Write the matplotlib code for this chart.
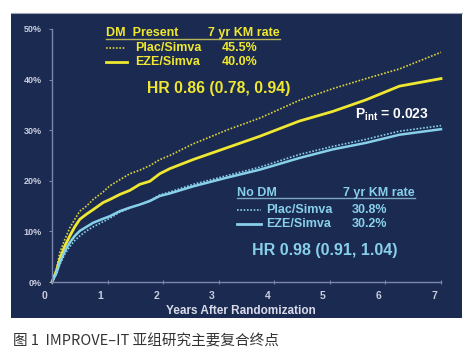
import matplotlib
matplotlib.use("Agg")
import matplotlib.pyplot as plt
import matplotlib.transforms as mtransforms
from matplotlib.patches import Rectangle
from matplotlib.lines import Line2D

plt.rcParams['font.family'] = ['Liberation Sans', 'DejaVu Sans']
plt.rcParams['mathtext.fontset'] = 'custom'
plt.rcParams['mathtext.rm'] = 'Liberation Sans:bold'

# Data (cumulative event rate, %)
years = [0, 0.08, 0.14, 0.23, 0.32, 0.41, 0.5, 0.62, 0.74, 0.92, 1.04, 1.22, 1.4,
         1.58, 1.76, 1.94, 2.12, 2.54, 3.14, 3.74, 4.45, 5.05, 5.65, 6.25, 7.0]
dm_plac = [0, 2.5, 5.8, 8.4, 10.7, 12.4, 14.0, 15.0, 16.3, 17.8, 19.0, 20.2, 21.4,
           22.1, 23.0, 24.2, 25.0, 27.3, 30.0, 32.4, 35.9, 38.2, 40.2, 42.1, 45.4]
dm_eze = [0, 2.2, 4.5, 7.1, 9.1, 10.9, 12.4, 13.4, 14.3, 15.7, 16.3, 17.3, 18.1,
          19.3, 19.9, 21.4, 22.4, 24.2, 26.5, 28.8, 31.8, 33.7, 36.0, 38.7, 40.2]
nodm_plac = [0, 1.6, 3.4, 5.5, 7.0, 8.2, 9.1, 10.1, 10.9, 11.9, 12.6, 13.8, 14.6,
             15.3, 16.1, 17.2, 17.8, 19.3, 21.0, 22.7, 25.2, 26.8, 28.2, 29.8, 30.9]
nodm_eze = [0, 1.8, 3.8, 6.1, 7.8, 9.1, 10.1, 10.9, 11.7, 12.5, 13.0, 14.0, 14.7,
            15.3, 16.0, 17.0, 17.5, 18.9, 20.6, 22.2, 24.5, 26.2, 27.5, 29.1, 30.2]

xticks = [0, 1, 2, 3, 4, 5, 6, 7]
yticks = [0, 10, 20, 30, 40, 50]
ytick_labels = ["0%", "10%", "20%", "30%", "40%", "50%"]

W, H = 468, 359
navy = "#1b2a50"
yellow = "#efe730"
yellow_dot = "#d9d43c"
blue = "#88cfea"
axis_col = "#7c86ad"
tick_col = "#c9cde0"

fig = plt.figure(figsize=(W / 100, H / 100), dpi=100)
fig.patch.set_facecolor("white")


def fx(px):
    return px / W


def fy(py):
    return 1 - py / H


# dark panel behind everything
fig.patches.append(Rectangle((fx(11), fy(318)), fx(462) - fx(11), fy(13) - fy(318),
                             transform=fig.transFigure, facecolor=navy, edgecolor="none", zorder=-5))
fig.lines.append(Line2D([fx(11), fx(462)], [fy(13), fy(13)], transform=fig.transFigure,
                        color="#a0a4b0", lw=0.8, zorder=-4))

ax = fig.add_axes([fx(52), fy(282), fx(441) - fx(52), fy(29) - fy(282)])
ax.set_zorder(1)
ax.set_facecolor("none")
ax.set_xlim(0, 7)
ax.set_ylim(0, 50)
for s in ["top", "right"]:
    ax.spines[s].set_visible(False)
for s in ["left", "bottom"]:
    ax.spines[s].set_color(axis_col)
    ax.spines[s].set_linewidth(1.0)

ax.plot(years, dm_plac, color=yellow_dot, lw=1.2, ls=(0, (1, 1)), clip_on=False)
ax.plot(years, dm_eze, color=yellow, lw=2.0, clip_on=False)
ax.plot(years, nodm_plac, color=blue, lw=1.2, ls=(0, (1, 1)), clip_on=False)
ax.plot(years, nodm_eze, color=blue, lw=1.8, clip_on=False)

ax.set_xticks(xticks)
ax.set_xticklabels([str(t) for t in xticks])
ax.set_yticks(yticks)
ax.set_yticklabels(ytick_labels)
ax.tick_params(axis="x", direction="inout", length=3, color=axis_col, pad=5,
               labelsize=7.5, labelcolor=tick_col)
ax.tick_params(axis="y", direction="out", length=2.5, color=axis_col, pad=5,
               labelsize=6.5, labelcolor=tick_col)
offset = mtransforms.ScaledTranslation(-7 / 100, 0, fig.dpi_scale_trans)
for lab in ax.get_xticklabels():
    lab.set_fontweight("bold")
    lab.set_transform(lab.get_transform() + offset)
for lab in ax.get_yticklabels():
    lab.set_fontweight("bold")

fig.text(fx(241), fy(311), "Years After Randomization", ha="center", va="center",
         fontsize=8.5, fontweight="bold", color="#d8dcea")

# DM present legend block
fig.text(fx(106), fy(33), "DM  Present", ha="left", va="center", fontsize=9,
         fontweight="bold", color=yellow)
fig.text(fx(280), fy(33), "7 yr KM rate", ha="right", va="center", fontsize=9,
         fontweight="bold", color=yellow)
fig.lines.append(Line2D([fx(106), fx(280)], [fy(38.5), fy(38.5)], transform=fig.transFigure,
                        color="#b8b45a", lw=1.0))
fig.lines.append(Line2D([fx(106), fx(126)], [fy(48), fy(48)], transform=fig.transFigure,
                        color=yellow_dot, lw=1.2, ls=(0, (1, 1))))
fig.lines.append(Line2D([fx(106), fx(127)], [fy(62), fy(62)], transform=fig.transFigure,
                        color=yellow, lw=2.0))
fig.text(fx(135), fy(48), "Plac/Simva", ha="left", va="center", fontsize=9,
         fontweight="bold", color=yellow)
fig.text(fx(135), fy(62), "EZE/Simva", ha="left", va="center", fontsize=9,
         fontweight="bold", color=yellow)
fig.text(fx(222), fy(48), "45.5%", ha="left", va="center", fontsize=9,
         fontweight="bold", color=yellow)
fig.text(fx(222), fy(62), "40.0%", ha="left", va="center", fontsize=9,
         fontweight="bold", color=yellow)
fig.text(fx(147), fy(89), "HR 0.86 (0.78, 0.94)", ha="left", va="center", fontsize=11.3,
         fontweight="bold", color=yellow)

# interaction p
fig.text(fx(355), fy(115), r"P$_{\mathrm{int}}$ = 0.023", ha="left", va="center",
         fontsize=10, fontweight="bold", color="white")

# No DM legend block
fig.text(fx(237), fy(193), "No DM", ha="left", va="center", fontsize=9,
         fontweight="bold", color=blue)
fig.text(fx(415), fy(193), "7 yr KM rate", ha="right", va="center", fontsize=9,
         fontweight="bold", color=blue)
fig.lines.append(Line2D([fx(237), fx(415)], [fy(198), fy(198)], transform=fig.transFigure,
                        color="#7aa9c4", lw=1.0))
fig.lines.append(Line2D([fx(237), fx(261)], [fy(210), fy(210)], transform=fig.transFigure,
                        color=blue, lw=1.2, ls=(0, (1, 1))))
fig.lines.append(Line2D([fx(237), fx(261)], [fy(224), fy(224)], transform=fig.transFigure,
                        color=blue, lw=2.0))
fig.text(fx(266), fy(210), "Plac/Simva", ha="left", va="center", fontsize=9,
         fontweight="bold", color=blue)
fig.text(fx(266), fy(224), "EZE/Simva", ha="left", va="center", fontsize=9,
         fontweight="bold", color=blue)
fig.text(fx(352), fy(210), "30.8%", ha="left", va="center", fontsize=9,
         fontweight="bold", color=blue)
fig.text(fx(352), fy(224), "30.2%", ha="left", va="center", fontsize=9,
         fontweight="bold", color=blue)
fig.text(fx(252), fy(250), "HR 0.98 (0.91, 1.04)", ha="left", va="center", fontsize=11.5,
         fontweight="bold", color=blue)

# caption
fig.text(fx(13), fy(341), "图 1  IMPROVE–IT 亚组研究主要复合终点", ha="left", va="center",
         fontsize=10.5, color="#333333", family=["Noto Sans CJK SC", "DejaVu Sans"])

fig.savefig("out.png", dpi=100, facecolor="white")
